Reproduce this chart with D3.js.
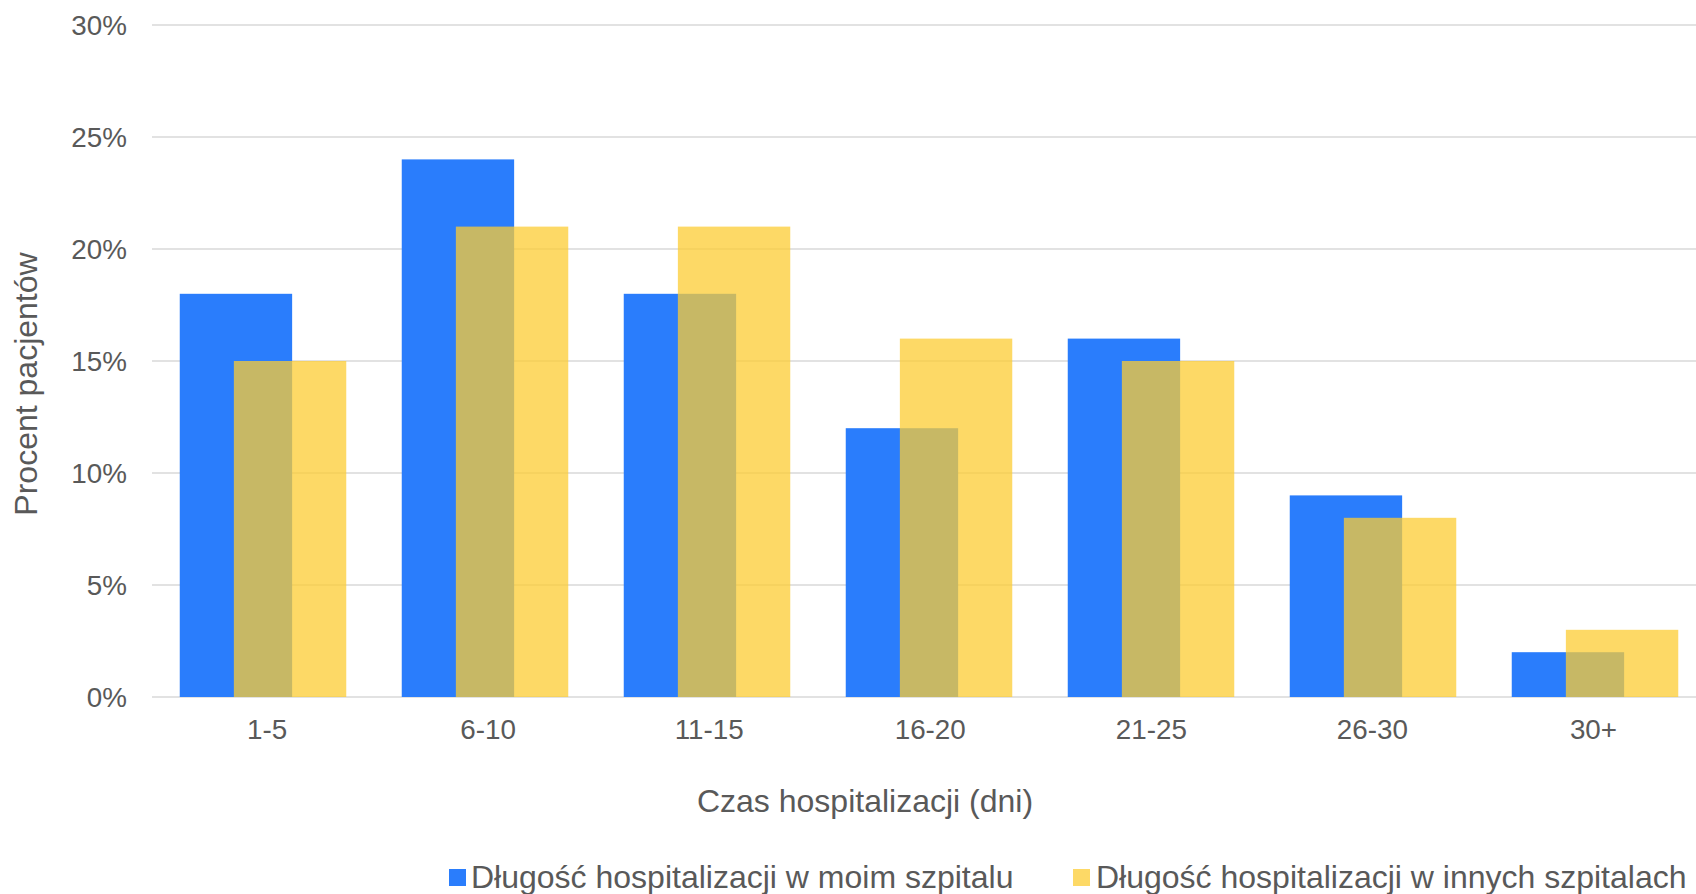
<!DOCTYPE html>
<html>
<head>
<meta charset="utf-8">
<script src="https://cdn.jsdelivr.net/npm/d3@7"></script>
<style>
html,body{margin:0;padding:0;background:#fff;}
svg{display:block;}
text{font-family:"Liberation Sans",Arial,sans-serif;fill:#595959;}
</style>
</head>
<body>
<svg id="chart" width="1696" height="894"></svg>
<script>
const categories = ["1-5","6-10","11-15","16-20","21-25","26-30","30+"];
const myHospital = [18,24,18,12,16,9,2];
const otherHospitals = [15,21,21,16,15,8,3];
const yTicks = [0,5,10,15,20,25,30];
const seriesNames = ["Długość hospitalizacji w moim szpitalu","Długość hospitalizacji w innych szpitalach"];
const xTitle = "Czas hospitalizacji (dni)";
const yTitle = "Procent pacjentów";

(function(){
const svg = d3.select("#chart");
const pLeft = 152, pRight = 1706, pTop = 25, pBottom = 697;
const fs = 27.8, fsT = 32;

const x = d3.scaleBand().domain(categories).range([pLeft, pRight]).paddingInner(0.25).paddingOuter(0.125);
const xLab = d3.scaleBand().domain(categories).range([156.5, 1704]);
const y = d3.scaleLinear().domain([0,30]).range([pBottom, pTop]);
const barW = x.bandwidth()*0.675;
const offset = x.bandwidth() - barW;

// gridlines
svg.append("g").selectAll("line").data(yTicks).join("line")
  .attr("x1", pLeft).attr("x2", 1696)
  .attr("y1", d=>y(d)).attr("y2", d=>y(d))
  .attr("stroke", "#d9d9d9").attr("stroke-width", 1.5);

// y tick labels
svg.append("g").selectAll("text").data(yTicks).join("text")
  .attr("x", 127).attr("y", d=>y(d)+10)
  .attr("text-anchor","end").attr("font-size", fs)
  .text(d=>d+"%");

// bars
svg.append("g").selectAll("rect").data(categories).join("rect")
  .attr("x", d=>x(d)).attr("width", barW)
  .attr("y", (d,i)=>y(myHospital[i])).attr("height", (d,i)=>y(0)-y(myHospital[i]))
  .attr("fill", "#2a7dfc");
svg.append("g").selectAll("rect").data(categories).join("rect")
  .attr("x", d=>x(d)+offset).attr("width", barW)
  .attr("y", (d,i)=>y(otherHospitals[i])).attr("height", (d,i)=>y(0)-y(otherHospitals[i]))
  .attr("fill", "#fccc33").attr("fill-opacity", 0.75);

// x labels
svg.append("g").selectAll("text").data(categories).join("text")
  .attr("x", d=>xLab(d)+xLab.bandwidth()/2).attr("y", 738.5)
  .attr("text-anchor","middle").attr("font-size", fs)
  .text(d=>d);

// axis titles
svg.append("text").attr("x", 865).attr("y", 812).attr("text-anchor","middle")
  .attr("font-size", fsT).text(xTitle);
svg.append("text").attr("transform","translate(37,384) rotate(-90)").attr("text-anchor","middle")
  .attr("font-size", fsT).text(yTitle);

// legend
const legend = [
  {name: seriesNames[0], color:"#2a7dfc", op:1, sx:449, tx:471},
  {name: seriesNames[1], color:"#fccc33", op:0.75, sx:1073, tx:1096}
];
const lg = svg.append("g");
lg.selectAll("rect").data(legend).join("rect")
  .attr("x", d=>d.sx).attr("y", 869).attr("width", 17).attr("height", 17)
  .attr("fill", d=>d.color).attr("fill-opacity", d=>d.op);
lg.selectAll("text").data(legend).join("text")
  .attr("x", d=>d.tx).attr("y", 888).attr("font-size", fsT)
  .text(d=>d.name);
})();
</script>
</body>
</html>
